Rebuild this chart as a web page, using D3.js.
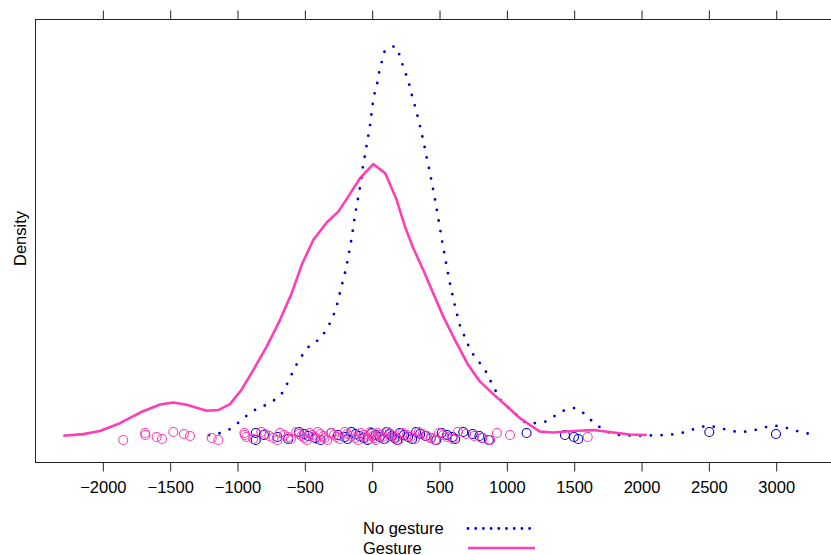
<!DOCTYPE html>
<html>
<head>
<meta charset="utf-8">
<script src="https://cdn.jsdelivr.net/npm/d3@7"></script>
<style>
  body { margin: 0; background: #fff; }
  text { font-family: "Liberation Sans", Arial, sans-serif; }
</style>
</head>
<body>
<div id="chart"></div>
<script>
// density curves (x = difference, density in units of 1e-4)
const gestureX = [-2290, -2142, -2018, -1869, -1720, -1571, -1473, -1374, -1225, -1139, -1052, -965, -879, -780, -681, -594, -520, -434, -334, -248, -174, -87, 12, 101, 186, 247, 309, 383, 457, 532, 619, 717, 804, 903, 1002, 1101, 1200, 1250, 1348, 1497, 1646, 1794, 1918, 2042];
const gestureD = [0.01, 0.06, 0.16, 0.41, 0.75, 1.01, 1.07, 1.00, 0.81, 0.83, 1.02, 1.49, 2.11, 2.86, 3.71, 4.57, 5.47, 6.27, 6.83, 7.18, 7.66, 8.25, 8.70, 8.41, 7.55, 6.70, 6.01, 5.31, 4.57, 3.82, 3.07, 2.27, 1.74, 1.34, 0.96, 0.57, 0.28, 0.14, 0.11, 0.16, 0.19, 0.11, 0.05, 0.03];

const noGestureX = [-1208, -1126, -1057, -988, -928, -861, -787, -718, -659, -622, -587, -549, -505, -456, -386, -339, -300, -270, -248, -230, -208, -189, -174, -159, -146, -134, -122, -107, -92, -79, -70, -55, -13, 7, 22, 42, 56, 76, 97, 171, 205, 230, 257, 282, 301, 324, 344, 364, 381, 398, 413, 431, 446, 463, 477, 490, 505, 517, 532, 547, 561, 576, 594, 611, 631, 648, 680, 713, 750, 799, 847, 884, 921, 960, 1049, 1138, 1218, 1299, 1366, 1438, 1512, 1582, 1638, 1700, 1770, 1851, 1931, 2015, 2098, 2180, 2262, 2343, 2421, 2499, 2579, 2658, 2740, 2819, 2900, 2975, 3056, 3136, 3215, 3294];
const noGestureD = [0.03, 0.09, 0.21, 0.43, 0.65, 0.85, 0.99, 1.16, 1.40, 1.72, 2.04, 2.36, 2.65, 2.92, 3.09, 3.38, 3.69, 4.02, 4.35, 4.70, 5.05, 5.39, 5.74, 6.07, 6.42, 6.77, 7.13, 7.47, 7.82, 8.17, 8.51, 8.86, 9.92, 10.61, 10.97, 11.31, 11.65, 11.99, 12.33, 12.48, 12.21, 11.87, 11.54, 11.20, 10.86, 10.52, 10.18, 9.83, 9.49, 9.15, 8.80, 8.46, 8.11, 7.75, 7.41, 7.06, 6.72, 6.37, 6.03, 5.67, 5.33, 4.98, 4.64, 4.29, 3.95, 3.61, 3.29, 2.94, 2.63, 2.36, 2.07, 1.75, 1.44, 1.13, 0.77, 0.44, 0.41, 0.47, 0.66, 0.84, 0.90, 0.71, 0.47, 0.26, 0.09, 0.02, 0.01, 0.01, 0.02, 0.03, 0.06, 0.14, 0.27, 0.33, 0.27, 0.17, 0.12, 0.16, 0.25, 0.34, 0.29, 0.18, 0.10, 0.03];

// raw observations shown as points along the bottom
const gesturePts = [-1845, -1683, -1680, -1597, -1557, -1473, -1394, -1349, -1188, -1139, -945, -941, -930, -880, -820, -790, -760, -730, -700, -680, -650, -620, -600, -560, -540, -520, -500, -480, -460, -440, -430, -410, -400, -380, -360, -350, -330, -300, -280, -260, -240, -200, -180, -150, -120, -100, -80, -60, -40, -20, -10, 0, 10, 20, 30, 45, 60, 80, 100, 120, 140, 160, 180, 200, 230, 260, 290, 320, 350, 380, 410, 440, 470, 500, 530, 560, 600, 640, 700, 760, 820, 880, 930, 1027, 1604];
const noGesturePts = [-861, -861, -800, -700, -620, -540, -500, -470, -420, -380, -300, -250, -200, -180, -150, -120, -90, -60, -30, 0, 30, 60, 90, 110, 130, 150, 170, 190, 210, 240, 270, 300, 330, 360, 400, 440, 480, 520, 560, 600, 620, 680, 750, 800, 820, 870, 1150, 1435, 1502, 1534, 2507, 3002];

const xTicks = [-2000, -1500, -1000, -500, 0, 500, 1000, 1500, 2000, 2500, 3000];
const groupNames = ['No gesture', 'Gesture'];

const W = 831, H = 555;
const plot = { left: 35, right: 832, top: 19, bottom: 462 };
const blue = '#0000cc', pink = '#ff3db4';

const svg = d3.select('#chart').append('svg')
  .attr('width', W).attr('height', H);

const x = d3.scaleLinear().domain([-2500, 3418]).range([plot.left, plot.right]);
const y = d3.scaleLinear().domain([-0.832, 13.344]).range([plot.bottom, plot.top]);

// frame
svg.append('rect')
  .attr('x', plot.left + 0.5).attr('y', plot.top + 0.5)
  .attr('width', plot.right - plot.left).attr('height', plot.bottom - plot.top)
  .attr('fill', 'none').attr('stroke', '#222').attr('stroke-width', 1);

// bottom axis
const bottomAxis = svg.append('g')
  .attr('transform', `translate(0.5, ${plot.bottom + 0.5})`)
  .call(d3.axisBottom(x).tickValues(xTicks).tickSizeInner(9).tickSizeOuter(0).tickPadding(10)
    .tickFormat(d => d < 0 ? '\u2212' + Math.abs(d) : String(d)));
bottomAxis.select('.domain').remove();
bottomAxis.selectAll('line').attr('stroke', '#222');
bottomAxis.selectAll('text').attr('font-size', 16.5).attr('fill', '#000')
  .attr('font-family', '"Liberation Sans", Arial, sans-serif');

// top axis (ticks only)
const topAxis = svg.append('g')
  .attr('transform', `translate(0.5, ${plot.top + 0.5})`)
  .call(d3.axisTop(x).tickValues(xTicks).tickSizeInner(9).tickSizeOuter(0).tickFormat(''));
topAxis.select('.domain').remove();
topAxis.selectAll('line').attr('stroke', '#222');

// y label
svg.append('text')
  .attr('transform', `translate(26, ${(plot.top + plot.bottom) / 2 - 2}) rotate(-90)`)
  .attr('text-anchor', 'middle')
  .attr('font-size', 16.5)
  .text('Density');

const line = d3.line().x(d => x(d[0])).y(d => y(d[1]));
const jitter = i => ((i * 7) % 9 - 4) * 0.032;

function drawPoints(vals, col) {
  svg.append('g').selectAll('circle')
    .data(vals)
    .enter()
    .append('circle')
    .attr('cx', d => x(d))
    .attr('cy', (d, i) => y(jitter(i)))
    .attr('r', 4.5)
    .attr('fill', 'none')
    .attr('stroke', col)
    .attr('stroke-width', 1.1);
}

// No gesture group
drawPoints(noGesturePts, blue);
svg.append('path')
  .datum(d3.zip(noGestureX, noGestureD))
  .attr('d', line)
  .attr('fill', 'none')
  .attr('stroke', blue)
  .attr('stroke-width', 2.8)
  .attr('stroke-linecap', 'round')
  .attr('stroke-dasharray', '0 10.7');

// Gesture group
drawPoints(gesturePts, pink);
svg.append('path')
  .datum(d3.zip(gestureX, gestureD))
  .attr('d', line)
  .attr('fill', 'none')
  .attr('stroke', pink)
  .attr('stroke-width', 2.6)
  .attr('stroke-linejoin', 'round');

// legend
const legend = svg.append('g');
legend.selectAll('text')
  .data(groupNames)
  .enter()
  .append('text')
  .attr('x', 363)
  .attr('y', (d, i) => 534 + i * 20)
  .attr('font-size', 16.5)
  .text(d => d);
legend.append('line')
  .attr('x1', 468).attr('x2', 530).attr('y1', 528.5).attr('y2', 528.5)
  .attr('stroke', blue).attr('stroke-width', 2.8)
  .attr('stroke-linecap', 'round').attr('stroke-dasharray', '0 7.7');
legend.append('line')
  .attr('x1', 468).attr('x2', 535).attr('y1', 548).attr('y2', 548)
  .attr('stroke', pink).attr('stroke-width', 2.6);
</script>
</body>
</html>
